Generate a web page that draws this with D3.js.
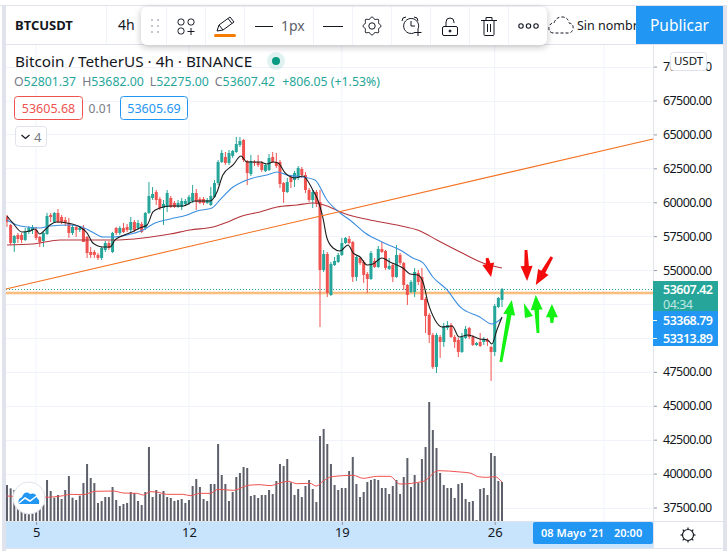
<!DOCTYPE html>
<html lang="es">

<head>
    <meta charset="utf-8">
    <script src="https://cdn.jsdelivr.net/npm/d3@7/dist/d3.min.js"></script>
    <style>
        body { margin: 0; background: #fff; }
        svg { display: block; }
        text { font-family: "Noto Sans", sans-serif; }
    </style>
</head>

<body>
    <div id="my_dataviz"></div>
</body>

<script>
    // candles, one entry per 4h bar
    const opens = [58914,58325,56998,57588,57588,57219,57809,57956,57956,57440,57145,57661,59062,58546,59209,58914,58693,58472,57735,58177,57956,58104,57440,56335,56335,56114,55892,56482,56998,56335,58104,57735,58104,58177,57956,58546,58104,58398,58104,59209,60314,60757,60241,59577,59651,60314,59946,59651,59651,59872,59946,60093,60683,60241,60241,59946,59799,60388,61420,62968,63336,62894,63410,63705,64220,64589,63041,62083,62968,62968,62894,62304,62378,63336,62968,62968,61420,60757,61862,61641,61789,62452,62010,60904,60167,60757,60020,55008,56187,53166,55377,55598,56114,56998,57293,57072,54492,55892,55598,54713,54345,55671,55229,56556,56408,55082,55377,54492,56114,55524,53903,53387,53387,54787,54492,52871,51691,50218,47859,50070,49702,50733,50955,50070,49849,48964,49996,50733,50070,49480,49702,49702,49849,49333,48964,52281,52801];
    const highs = [59062,58398,57588,57735,57735,58104,58251,58325,58177,57514,57809,59209,59209,59283,59504,59062,58914,58840,58325,58325,58251,58325,57514,56703,56482,56261,56703,57145,57145,57809,58177,58251,58472,58398,58914,58693,58693,58546,59283,61494,61125,60904,60388,60167,60904,60462,60093,60167,60314,60241,60536,61273,60978,60388,60388,60314,61125,61641,63115,63852,63705,63852,63852,64810,64810,64663,63115,63484,63115,63484,63041,62894,63557,63705,63631,63115,61494,61789,62010,62304,62673,62599,62231,61052,60904,60904,60904,56482,56335,55598,55966,56261,57367,57440,57514,57145,56040,55966,55745,54861,56408,55892,56777,57072,56482,55892,55524,56851,56261,55598,53976,54271,55155,55008,55155,53018,51839,50365,50365,50218,51102,51249,51102,50218,49996,50365,50881,50807,50218,49702,50365,50070,49996,49407,52502,53018,53682];
    const lows = [58177,56851,56335,56998,56998,57145,57661,57661,57219,56703,56703,57588,58546,58472,58472,58398,58251,57367,57588,57440,57809,57072,55892,55892,55892,55745,55745,56335,56482,56261,57588,57588,57735,57809,57809,57809,57956,57735,57956,59135,60167,59799,59430,58325,59283,59577,59577,59577,59430,59725,59799,59946,59430,59872,59799,59872,59725,60314,61273,62894,62747,62747,63262,63631,64073,62968,61273,61936,62673,62599,62231,62231,62304,62894,62526,61052,59946,60683,61052,61125,61641,61789,60683,60020,59577,59651,50807,54861,53018,53092,55303,55524,56040,56924,56924,54124,54197,55377,54050,53313,54271,55155,55155,56261,55008,55008,54124,54419,55377,53534,52429,53313,53018,53903,52797,50365,49628,47712,47417,48522,49333,50586,49996,49259,48596,48891,49923,49923,49407,49407,49333,49480,49407,46828,48670,52207,52275];
    const closes = [58546,56998,57514,57293,57219,57809,58104,58177,57367,57072,57735,58988,58914,59209,58546,58546,58472,57735,58177,57956,58104,57072,56261,56114,56114,55892,56630,56998,56630,57735,57735,58104,57809,57956,58546,57956,58472,57809,59209,60462,60609,60167,59577,59872,60683,59651,59651,59946,60093,60093,60388,60683,60020,59946,59946,60167,60462,61420,62968,63631,62894,63631,63778,64294,64515,63115,62157,63041,62894,62747,62378,62747,63262,62968,62673,61347,60757,61494,61494,62157,62526,62010,60904,60167,60757,59946,55008,56187,53313,55450,55671,56114,56998,57367,56998,54492,55966,55524,54640,54345,56261,55229,56556,56335,55155,55303,54492,56114,55524,53903,53166,54124,54861,54124,52797,51618,50218,47859,50218,49702,50881,50955,50070,49702,48964,50070,50660,50070,49480,49628,49407,49923,49702,48964,52355,52945,53607.42];

    // volume bars, in the same order (relative units)
    const volumes = [108,98,93,60,55,50,48,52,55,60,50,123,90,70,78,66,93,135,70,63,76,114,171,129,114,54,60,72,72,102,63,45,51,54,87,84,60,48,87,222,72,93,81,90,72,69,60,63,66,54,63,105,126,102,66,60,111,111,231,138,111,60,87,132,144,162,159,75,78,69,78,78,93,81,120,171,165,186,116,78,96,72,105,123,96,57,255,276,231,171,108,93,99,99,150,192,111,72,87,117,123,126,123,99,99,81,105,123,81,132,189,102,138,114,186,222,357,273,219,144,108,99,99,69,111,114,66,57,60,3,96,99,78,204,195,120,117];

    // moving averages: bar position and value of each vertex
    const blackBars = [0,1.6,4.1,6.3,7.7,9,10.4,11.8,13.7,16.5,20,22,23.6,26.4,28.3,29.7,31.6,34.3,36.5,38.5,40.1,42,44.8,48.4,51.6,55.8,57.7,59.3,62.1,64.3,65.9,69.5,71.4,73.1,74.5,76.4,79.1,81.3,84,85.4,86.8,87.9,89.6,91.5,93.7,95.1,97,98.9,100.5,103,105.2,107.1,108.8,110.7,112.9,114.3,115.7,117.6,119.5,122.3,124.2,126.6,129.9,132.1,133.2,134.6,136];
    const blackValues = [58988,58472,57809,57882,58030,57661,57956,58325,58546,58472,58177,57735,56998,56703,56703,57219,57514,57809,58104,58325,59283,59577,59725,59725,60093,60093,60757,62010,62747,63410,62968,62968,62820,62968,62894,62157,61789,61936,60904,60167,58840,57367,56630,56408,56851,56261,55966,55377,55450,55892,55598,55377,55155,54713,54640,54124,52576,51323,50807,50881,50070,50218,49923,49849,49554,50586,51544];
    const blueBars = [0,2.7,5.5,9.1,11.8,17.3,20.6,23.4,26.4,29.1,33,37.4,40.7,44.8,49.5,52.2,56.3,58.5,62.1,64.6,67.6,71.4,74.2,76.9,81.3,84.6,87.9,91.5,94.2,98.4,103,108,111.5,114.3,117,120.9,124.5,129.9,133.2,136];
    const blueValues = [58693,58325,58177,58104,58251,58325,58177,57809,57440,57440,57588,57956,58472,58767,59062,59356,59577,60167,61125,61494,61789,62010,62231,62010,61862,61641,60167,59209,58693,57735,57072,56482,55892,55524,54492,53534,52281,51544,51028,51470];
    const darkRedBars = [0,7.1,14.6,20.9,29.1,37.4,44.8,50.3,56.6,61.3,64.6,69.5,74.2,79.7,84.1,87.9,92.3,99.7,107.1,113.5,118.1,124.5,130.8,136];
    const darkRedValues = [56851,56924,57219,57219,57219,57367,57661,57956,58177,58619,58988,59283,59651,59799,59946,59725,59209,58693,58325,57882,57219,56335,55524,55155];
    const volMaBars = [0,10,15.5,17.3,21,24.2,29.2,32,35.6,37.5,39.3,41.1,43.9,48.4,50.3,53,55.8,58,62.2,66.3,69.5,72.3,75,77.3,79.6,83.2,85,86.9,89.2,95.1,97.9,101.6,105.2,108,114.4,118.5,124.5,127.2,129.5,131.8,134,136];
    const volMaValues = [75,71,76,80,79,89,90,84,83,78,88,87,80,80,76,83,83,95,92,107,109,106,114,119,112,113,105,120,133,137,128,134,134,111,119,151,147,144,133,131,133,117];

    // drawings on the chart [bar, price]
    const trendLine = [[-0.3, 53608], [177.5, 64663]];
    const horizontalPrice = 53313.89;
    const lastPrice = 53607.42;
    const redArrows = [
        [[131.9, 55892], [133, 54492]],
        [[142.6, 56482], [142.9, 54197]],
        [[149.7, 55966], [145.3, 53903]]
    ];
    const greenArrows = [
        [[135.7, 48228], [138.7, 52797]],
        [[145.9, 50365], [145.3, 53166]],
        [[149.7, 51102], [149.7, 52502]]
    ];
    const greenTriangle = [[142, 52576], [144.5, 51618], [142.3, 51470]];

    // axes
    const priceTicks = [70000,67500,65000,62500,60000,57500,55000,52500,50000,47500,45000,42500,40000,37500];
    const timeTickBars = [8, 50, 92, 134];
    const timeTickLabels = ["5", "12", "19", "26"];
    const timeGridBars = [8, 50, 92, 134, 164]; // the last one has its label hidden by the date box

    // header texts
    const ohlcLabels = ["O", "H", "L", "C"];
    const ohlcValues = ["52801.37", "53682.00", "52275.00", "53607.42"];

    const svgWidth = 727;
    const svgHeight = 551;
    const plot = { left: 6, right: 653, top: 45, bottom: 521 };

    const TEAL = "#26a69a", RED = "#ef5350", BLUE = "#2196f3", LINE = "#e0e3eb", GRID = "#f0f3fa", INK = "#131722", GREY = "#787b86";

    const svg = d3.select("#my_dataviz")
        .append("svg")
        .attr("width", svgWidth)
        .attr("height", svgHeight);

    const x = d3.scaleLinear().domain([0, 136]).range([7, 502]);
    const y = d3.scaleLinear().domain([37500, 67500]).range([507.5, 100.5]);
    const yVol = d3.scaleLinear().domain([0, 357]).range([plot.bottom, 402]);

    svg.append("clipPath").attr("id", "plotClip")
        .append("rect")
        .attr("x", plot.left).attr("y", plot.top)
        .attr("width", plot.right - plot.left).attr("height", plot.bottom - plot.top);

    const defs = svg.append("defs");
    defs.append("filter").attr("id", "toolShadow")
        .attr("x", "-5%").attr("y", "-30%").attr("width", "110%").attr("height", "170%")
        .append("feDropShadow")
        .attr("dx", 0).attr("dy", 2).attr("stdDeviation", 3)
        .attr("flood-color", "#2a2e39").attr("flood-opacity", 0.3);

    // grid
    svg.append("g").selectAll("line").data(timeGridBars).enter().append("line")
        .attr("x1", d => x(d)).attr("x2", d => x(d))
        .attr("y1", plot.top).attr("y2", plot.bottom)
        .attr("stroke", GRID);
    svg.append("g").selectAll("line").data(priceTicks).enter().append("line")
        .attr("x1", plot.left).attr("x2", plot.right)
        .attr("y1", d => Math.round(y(d)) + 0.5).attr("y2", d => Math.round(y(d)) + 0.5)
        .attr("stroke", GRID);

    const chart = svg.append("g").attr("clip-path", "url(#plotClip)");

    // volume
    chart.append("g").selectAll("rect").data(volumes).enter().append("rect")
        .attr("x", (d, i) => x(i) - 1)
        .attr("y", d => yVol(d))
        .attr("width", 2)
        .attr("height", d => plot.bottom - yVol(d))
        .attr("fill", "#5d606b");

    chart.append("path")
        .datum(volMaBars.map((b, i) => [b, volMaValues[i]]))
        .attr("fill", "none").attr("stroke", RED).attr("stroke-width", 1)
        .attr("d", d3.line().x(d => x(d[0])).y(d => yVol(d[1])).curve(d3.curveMonotoneX));

    // price lines behind the candles
    chart.append("line")
        .attr("x1", plot.left).attr("x2", plot.right)
        .attr("y1", y(horizontalPrice)).attr("y2", y(horizontalPrice))
        .attr("stroke", "#f57c00").attr("stroke-opacity", 0.3).attr("stroke-width", 3);
    chart.append("line")
        .attr("x1", plot.left).attr("x2", plot.right)
        .attr("y1", y(horizontalPrice)).attr("y2", y(horizontalPrice))
        .attr("stroke", "#f57c00").attr("stroke-opacity", 0.55).attr("stroke-width", 1);
    chart.append("line")
        .attr("x1", plot.left).attr("x2", plot.right)
        .attr("y1", Math.round(y(lastPrice)) + 0.5).attr("y2", Math.round(y(lastPrice)) + 0.5)
        .attr("stroke", TEAL).attr("stroke-dasharray", "1,2");

    // candles
    const bars = opens.map((o, i) => ({ i: i, o: o, h: highs[i], l: lows[i], c: closes[i] }));
    const candle = chart.append("g").selectAll("g").data(bars).enter().append("g");
    candle.append("line")
        .attr("x1", d => x(d.i)).attr("x2", d => x(d.i))
        .attr("y1", d => y(d.h)).attr("y2", d => y(d.l))
        .attr("stroke", d => d.c >= d.o ? TEAL : RED);
    candle.append("rect")
        .attr("x", d => x(d.i) - 1.5)
        .attr("y", d => y(Math.max(d.o, d.c)))
        .attr("width", 3)
        .attr("height", d => Math.max(1, Math.abs(y(d.o) - y(d.c))))
        .attr("fill", d => d.c >= d.o ? TEAL : RED);

    // moving averages
    const maLine = d3.line().x(d => x(d[0])).y(d => y(d[1])).curve(d3.curveMonotoneX);
    chart.append("path").datum(darkRedBars.map((b, i) => [b, darkRedValues[i]]))
        .attr("fill", "none").attr("stroke", "#b5353c").attr("stroke-width", 1.1).attr("d", maLine);
    chart.append("path").datum(blueBars.map((b, i) => [b, blueValues[i]]))
        .attr("fill", "none").attr("stroke", "#3d8fe0").attr("stroke-width", 1.1).attr("d", maLine);
    chart.append("path").datum(blackBars.map((b, i) => [b, blackValues[i]]))
        .attr("fill", "none").attr("stroke", "#1c1c1c").attr("stroke-width", 1.1).attr("d", maLine);

    // drawings
    svg.append("path").datum(trendLine)
        .attr("fill", "none").attr("stroke", "#f4711f").attr("stroke-width", 1.1)
        .attr("d", d3.line().x(d => x(d[0])).y(d => y(d[1])));

    function arrowPath(a) {
        const x0 = x(a[0][0]), y0 = y(a[0][1]), x1 = x(a[1][0]), y1 = y(a[1][1]);
        const len = Math.hypot(x1 - x0, y1 - y0);
        const ux = (x1 - x0) / len, uy = (y1 - y0) / len;
        const nx = -uy, ny = ux;
        const head = Math.min(15, len * 0.7), bx = x1 - ux * head, by = y1 - uy * head;
        const p = (px, py) => px.toFixed(1) + "," + py.toFixed(1);
        return "M" + p(x0 + nx * 1.4, y0 + ny * 1.4) + "L" + p(bx + nx * 2.3, by + ny * 2.3) + "L" + p(bx + nx * 6, by + ny * 6)
            + "L" + p(x1, y1)
            + "L" + p(bx - nx * 6, by - ny * 6) + "L" + p(bx - nx * 2.3, by - ny * 2.3) + "L" + p(x0 - nx * 1.4, y0 - ny * 1.4) + "Z";
    }
    svg.append("g").selectAll("path").data(redArrows).enter().append("path")
        .attr("d", arrowPath).attr("fill", "#f40b0b");
    svg.append("g").selectAll("path").data(greenArrows).enter().append("path")
        .attr("d", arrowPath).attr("fill", "#13f213");
    svg.append("path").datum(greenTriangle)
        .attr("d", d3.line().x(d => x(d[0])).y(d => y(d[1])).curve(d3.curveLinearClosed))
        .attr("fill", "#13f213");

    // price axis
    const yAxis = svg.append("g")
        .attr("transform", `translate(${plot.right},0)`)
        .call(d3.axisRight(y).tickValues(priceTicks).tickFormat(d3.format(".2f")).tickSize(4).tickPadding(6));
    yAxis.select(".domain").remove();
    yAxis.selectAll("line").attr("stroke", "#9598a1");
    yAxis.selectAll("text").attr("fill", INK).style("font-size", "12.5px").style("letter-spacing", "-0.6px");

    // time axis
    svg.append("rect")
        .attr("x", plot.left).attr("y", plot.bottom)
        .attr("width", plot.right - plot.left).attr("height", 27)
        .attr("fill", "#c8e4fd");
    const xAxis = svg.append("g")
        .attr("transform", `translate(0,${plot.bottom})`)
        .call(d3.axisBottom(x).tickValues(timeTickBars).tickFormat((d, i) => timeTickLabels[i]).tickSize(4).tickPadding(3));
    xAxis.select(".domain").remove();
    xAxis.selectAll("line").attr("stroke", "#9598a1");
    xAxis.selectAll("text").attr("fill", INK).style("font-size", "13px");

    svg.append("rect").attr("x", 533).attr("y", 522).attr("width", 120).attr("height", 22).attr("rx", 2).attr("fill", BLUE);
    svg.append("text").attr("x", 541).attr("y", 537).attr("fill", "#fff").style("font-size", "11px").style("font-weight", "600")
        .text("08 Mayo '21");
    svg.append("text").attr("x", 614).attr("y", 537).attr("fill", "#fff").style("font-size", "11px").style("font-weight", "600")
        .text("20:00");

    // frame lines and strips
    svg.append("line").attr("x1", plot.right + 0.5).attr("x2", plot.right + 0.5).attr("y1", plot.top).attr("y2", 548).attr("stroke", LINE);
    svg.append("line").attr("x1", plot.left).attr("x2", 723).attr("y1", plot.bottom + 0.5).attr("y2", plot.bottom + 0.5).attr("stroke", LINE);
    svg.append("rect").attr("x", 0).attr("y", 548).attr("width", svgWidth).attr("height", 3).attr("fill", "#fff");
    svg.append("line").attr("x1", plot.left).attr("x2", 723).attr("y1", 548.5).attr("y2", 548.5).attr("stroke", LINE);
    svg.append("rect").attr("x", 2).attr("y", 5).attr("width", 4).attr("height", 546).attr("fill", LINE);
    svg.append("rect").attr("x", 723).attr("y", 5).attr("width", 4).attr("height", 546).attr("fill", LINE);

    // settings sun at the axis corner
    const sun = svg.append("g").attr("transform", "translate(688,535)")
        .attr("fill", "none").attr("stroke", INK).attr("stroke-width", 1.2);
    sun.append("circle").attr("r", 5.5);
    d3.range(8).forEach(k => {
        const a = k * Math.PI / 4;
        sun.append("line")
            .attr("x1", 5.5 * Math.cos(a)).attr("y1", 5.5 * Math.sin(a))
            .attr("x2", 7.5 * Math.cos(a)).attr("y2", 7.5 * Math.sin(a));
    });

    // last price labels
    svg.append("rect").attr("x", 653).attr("y", 281).attr("width", 65).attr("height", 31).attr("fill", TEAL);
    svg.append("rect").attr("x", 653).attr("y", 311).attr("width", 65).attr("height", 35).attr("fill", BLUE);
    const tagText = (t, ty, fill, weight) => svg.append("text").attr("x", 663).attr("y", ty).attr("fill", fill)
        .style("font-size", "12.5px").style("letter-spacing", "-0.5px").style("font-weight", weight).text(t);
    tagText("53607.42", 294, "#fff", 600);
    tagText("04:34", 309, "#bfe6e2", 400);
    tagText("53368.79", 325, "#fff", 600);
    tagText("53313.89", 343, "#fff", 600);
    svg.append("line").attr("x1", 653).attr("x2", 657).attr("y1", 320.5).attr("y2", 320.5).attr("stroke", "#fff");
    svg.append("line").attr("x1", 653).attr("x2", 657).attr("y1", 338.5).attr("y2", 338.5).attr("stroke", "#fff");

    // USDT unit box
    svg.append("rect").attr("x", 670.5).attr("y", 52.5).attr("width", 36).attr("height", 18).attr("rx", 3)
        .attr("fill", "#fff").attr("stroke", LINE);
    svg.append("text").attr("x", 688.5).attr("y", 65).attr("text-anchor", "middle").attr("fill", INK)
        .style("font-size", "11.5px").text("USDT");

    // legend
    svg.append("text").attr("x", 15).attr("y", 67).attr("fill", INK).style("font-size", "15.3px")
        .text("Bitcoin / TetherUS · 4h · BINANCE");
    svg.append("circle").attr("cx", 276).attr("cy", 61).attr("r", 9).attr("fill", TEAL).attr("fill-opacity", 0.15);
    svg.append("circle").attr("cx", 276).attr("cy", 61).attr("r", 4).attr("fill", "#089981");

    const ohlc = svg.append("text").attr("x", 14).attr("y", 86).style("font-size", "12.3px");
    ohlcLabels.forEach((l, i) => {
        ohlc.append("tspan").attr("fill", GREY).attr("dx", i ? 6 : 0).text(l);
        ohlc.append("tspan").attr("fill", TEAL).text(ohlcValues[i]);
    });
    ohlc.append("tspan").attr("fill", TEAL).attr("dx", 7).text("+806.05 (+1.53%)");

    svg.append("rect").attr("x", 14.5).attr("y", 96.5).attr("width", 68).attr("height", 23).attr("rx", 3)
        .attr("fill", "#fff").attr("stroke", RED);
    svg.append("text").attr("x", 48.5).attr("y", 113).attr("text-anchor", "middle").attr("fill", RED)
        .style("font-size", "12.5px").text("53605.68");
    svg.append("text").attr("x", 100.5).attr("y", 113).attr("text-anchor", "middle").attr("fill", GREY)
        .style("font-size", "12px").text("0.01");
    svg.append("rect").attr("x", 120.5).attr("y", 96.5).attr("width", 67).attr("height", 23).attr("rx", 3)
        .attr("fill", "#fff").attr("stroke", BLUE);
    svg.append("text").attr("x", 154).attr("y", 113).attr("text-anchor", "middle").attr("fill", BLUE)
        .style("font-size", "12.5px").text("53605.69");

    svg.append("rect").attr("x", 15.5).attr("y", 126.5).attr("width", 31).attr("height", 20).attr("rx", 3)
        .attr("fill", "#fff").attr("stroke", LINE);
    svg.append("path").attr("d", "M21.5,135 l4,3.5 l4,-3.5").attr("fill", "none").attr("stroke", INK).attr("stroke-width", 1.2);
    svg.append("text").attr("x", 34).attr("y", 142).attr("fill", GREY).style("font-size", "13px").text("4");

    // logo on the volume pane
    svg.append("circle").attr("cx", 29).attr("cy", 498).attr("r", 16).attr("fill", "#fff").attr("stroke", LINE);
    svg.append("path")
        .attr("d", "M19,504 q-2,-5 3,-7 q3,-7 8,-3 q6,-2 7,4 q3,2 2,6 z")
        .attr("fill", BLUE);
    svg.append("path").attr("d", "M19,503 l6,-5 l5,3 l8,-6").attr("fill", "none").attr("stroke", "#fff").attr("stroke-width", 1.5);

    // top toolbar
    svg.append("rect").attr("x", 6).attr("y", 5).attr("width", 717).attr("height", 40).attr("fill", "#fff");
    svg.append("line").attr("x1", 0).attr("x2", svgWidth).attr("y1", 5.5).attr("y2", 5.5).attr("stroke", LINE);
    svg.append("line").attr("x1", 6).attr("x2", 723).attr("y1", 44.5).attr("y2", 44.5).attr("stroke", LINE);
    svg.append("line").attr("x1", 106.5).attr("x2", 106.5).attr("y1", 6).attr("y2", 44).attr("stroke", GRID);
    svg.append("text").attr("x", 15).attr("y", 30).attr("fill", INK).style("font-size", "13px").style("font-weight", "700").text("BTCUSDT");
    svg.append("text").attr("x", 118).attr("y", 30).attr("fill", INK).style("font-size", "14px").text("4h");

    // cloud + layout name, under the publish button
    svg.append("path")
        .attr("d", "M553,33 q-5,-1 -4,-6 q1,-4 5,-4 q2,-6 8,-6 q6,0 7,6 q5,1 4,6 q-1,4 -5,4 z")
        .attr("fill", "none").attr("stroke", INK).attr("stroke-dasharray", "3,2");
    svg.append("text").attr("x", 577).attr("y", 30).attr("fill", INK).style("font-size", "12.5px").text("Sin nombre");
    svg.append("rect").attr("x", 636).attr("y", 6).attr("width", 87).attr("height", 38).attr("fill", BLUE);
    svg.append("text").attr("x", 679.5).attr("y", 31).attr("text-anchor", "middle").attr("fill", "#fff").style("font-size", "15.5px").text("Publicar");

    // floating drawing toolbar
    svg.append("rect").attr("x", 141).attr("y", 7).attr("width", 406).attr("height", 38).attr("rx", 6)
        .attr("fill", "#fff").attr("filter", "url(#toolShadow)");
    const toolSeparators = [166, 205, 244, 313, 352, 391, 430, 469, 508];
    svg.append("g").selectAll("line").data(toolSeparators).enter().append("line")
        .attr("x1", d => d + 0.5).attr("x2", d => d + 0.5).attr("y1", 7).attr("y2", 45).attr("stroke", GRID);

    const tools = svg.append("g").attr("fill", "none").attr("stroke", INK).attr("stroke-width", 1);
    [20, 26, 32].forEach(cy => [151, 157].forEach(cx => {
        tools.append("rect").attr("x", cx).attr("y", cy - 1).attr("width", 2).attr("height", 2)
            .attr("fill", "#c5c8d0").attr("stroke", "none");
    }));
    // objects tree
    tools.append("rect").attr("x", 178).attr("y", 19).attr("width", 6).attr("height", 6).attr("rx", 2.5);
    tools.append("rect").attr("x", 188).attr("y", 19).attr("width", 6).attr("height", 6).attr("rx", 2.5);
    tools.append("rect").attr("x", 178).attr("y", 28).attr("width", 6).attr("height", 6).attr("rx", 2.5);
    tools.append("path").attr("d", "M191,28 v7 M187.5,31.5 h7");
    // pencil
    tools.append("path").attr("d", "M217,31 l2,-6 l11,-8 l4,5 l-11,8 z M219,25 l4,5 M228,18.5 l4,5");
    svg.append("rect").attr("x", 214).attr("y", 34).attr("width", 22).attr("height", 3).attr("rx", 1.5).attr("fill", "#f57c00");
    // line styles
    tools.append("path").attr("d", "M255,26.5 h18 M323,26.5 h20");
    svg.append("text").attr("x", 281).attr("y", 31).attr("fill", "#5d606b").style("font-size", "14px").text("1px");
    // gear outline
    const gearPoints = d3.range(16).map(k => [k * Math.PI / 8, k % 2 ? 7.2 : 9.2]);
    tools.append("path")
        .attr("transform", "translate(372,26)")
        .attr("d", d3.lineRadial().curve(d3.curveCardinalClosed)(gearPoints));
    tools.append("circle").attr("cx", 372).attr("cy", 26).attr("r", 3.2);
    // alarm
    tools.append("path").attr("d", "M418,29 a7.5,7.5 0 1 0 -3,3.4 M411,21 v5 h4 M402,21 q0,-4 4,-4 M414,17 q4,0 4,4 M418,29 v7 M414.5,32.5 h7");
    // lock
    tools.append("rect").attr("x", 442.5).attr("y", 26.5).attr("width", 15).attr("height", 9).attr("rx", 1.5);
    tools.append("path").attr("d", "M446,26 v-4 a4,4 0 0 1 8,0 v1");
    tools.append("circle").attr("cx", 450).attr("cy", 31).attr("r", 1).attr("fill", INK);
    // trash
    tools.append("path").attr("d", "M481,20.5 h16 M484,20.5 v14 a1,1 0 0 0 1,1 h8 a1,1 0 0 0 1,-1 v-14 M486,20 v-2.5 h6 v2.5 M487.5,24 v8 M490.5,24 v8");
    // more
    [521, 528.5, 536].forEach(cx => tools.append("circle").attr("cx", cx).attr("cy", 26).attr("r", 2.2).attr("stroke-width", 1.1));
</script>

</html>
